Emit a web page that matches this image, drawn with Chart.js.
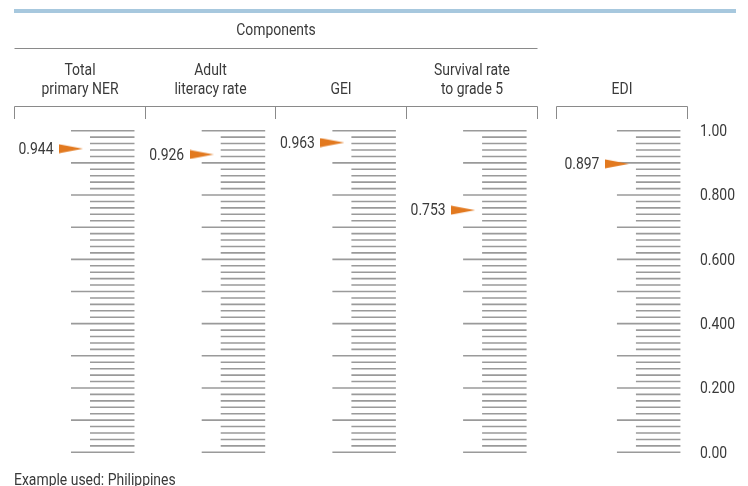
<!DOCTYPE html>
<html>
<head>
<meta charset="utf-8">
<script src="https://cdn.jsdelivr.net/npm/chart.js@4/dist/chart.umd.min.js"></script>
<style>
  html, body { margin: 0; padding: 0; background: #fff; }
  #wrap { width: 748px; height: 486px; position: relative; }
</style>
</head>
<body>
<div id="wrap"><canvas id="gaugeChart"></canvas></div>
<script>
// Data
const categories = [
    ['Total', 'primary NER'],
    ['Adult', 'literacy rate'],
    ['GEI'],
    ['Survival rate', 'to grade 5'],
    ['EDI']
];
const values = [0.944, 0.926, 0.963, 0.753, 0.897];
const yTickValues = [0, 0.2, 0.4, 0.6, 0.8, 1];
const yTickLabels = ['0.00', '0.200', '0.400', '0.600', '0.800', '1.00'];
const groupTitle = 'Components';
const note = 'Example used: Philippines';

// Layout / style
const columnSlots = [0, 1, 2, 3, 4.177];   // last one is the separate EDI gauge
const componentCount = 4;
const fontFamily = 'Roboto, "Open Sans", sans-serif';
const fontSize = 17;
const squeeze = 0.82;                      // the original uses a condensed face
const textColor = '#3a3a3a';
const tickColor = '#9a9a9a';
const lineColor = '#8a8a8a';
const markerColor = '#e2791f';
const minorStep = 0.02;
const majorEvery = 5;

// Elongated triangle used as point style
function makeMarker() {
    const c = document.createElement('canvas');
    c.width = 24;
    c.height = 10;
    const g = c.getContext('2d');
    g.fillStyle = markerColor;
    g.beginPath();
    g.moveTo(0, 0.5);
    g.lineTo(24, 5);
    g.lineTo(0, 9.5);
    g.closePath();
    g.fill();
    return c;
}

// Narrow text: draw with a horizontal squeeze
function narrowText(ctx, text, x, y, align, baseline) {
    ctx.save();
    ctx.translate(x, y);
    ctx.scale(squeeze, 1);
    ctx.font = fontSize + 'px ' + fontFamily;
    ctx.fillStyle = textColor;
    ctx.textAlign = align;
    ctx.textBaseline = baseline || 'alphabetic';
    ctx.fillText(text, 0, 0);
    ctx.restore();
}

const gaugePlugin = {
    id: 'gauge',
    beforeDatasetsDraw(chart) {
        const { ctx, scales: { x, y } } = chart;
        ctx.save();
        ctx.strokeStyle = tickColor;
        ctx.lineWidth = 1.6;
        const steps = Math.round(1 / minorStep);
        columnSlots.forEach(slot => {
            const left = x.getPixelForValue(slot);
            for (let k = 0; k <= steps; k++) {
                const py = y.getPixelForValue(k * minorStep);
                const major = k % majorEvery === 0;
                ctx.beginPath();
                ctx.moveTo(left + (major ? 0 : 19), py);
                ctx.lineTo(left + 63.5, py);
                ctx.stroke();
            }
        });
        ctx.restore();
    },
    afterDatasetsDraw(chart) {
        const { ctx, chartArea, scales: { y } } = chart;
        const meta = chart.getDatasetMeta(0);
        meta.data.forEach((pt, i) => {
            narrowText(ctx, values[i].toFixed(3), pt.x - 17.5, pt.y + 1, 'right', 'middle');
        });
        // right-hand value scale
        yTickValues.forEach((v, i) => {
            narrowText(ctx, yTickLabels[i], chartArea.right + 10, y.getPixelForValue(v) + 1, 'left', 'middle');
        });
    },
    afterDraw(chart) {
        const { ctx, scales: { x } } = chart;
        ctx.save();

        // blue band on top
        ctx.fillStyle = '#a7c8de';
        ctx.fillRect(14, 9, 722, 4);

        const edges = [];
        for (let i = 0; i <= componentCount; i++) {
            edges.push(Math.round(x.getPixelForValue(i) - 57) + 0.5);
        }
        const edi = x.getPixelForValue(columnSlots[4]);
        const ediL = Math.round(edi - 61) + 0.5;
        const ediR = Math.round(edi + 70) + 0.5;

        ctx.strokeStyle = lineColor;
        ctx.lineWidth = 1;

        // line under "Components"
        ctx.beginPath();
        ctx.moveTo(edges[0], 48.5);
        ctx.lineTo(edges[componentCount], 48.5);
        ctx.stroke();

        // brackets
        ctx.beginPath();
        ctx.moveTo(edges[0], 106.5);
        ctx.lineTo(edges[componentCount], 106.5);
        edges.forEach(ex => {
            ctx.moveTo(ex, 106.5);
            ctx.lineTo(ex, 119);
        });
        ctx.moveTo(ediL, 119);
        ctx.lineTo(ediL, 106.5);
        ctx.lineTo(ediR, 106.5);
        ctx.lineTo(ediR, 119);
        ctx.stroke();
        ctx.restore();

        // texts
        narrowText(ctx, groupTitle, (edges[0] + edges[componentCount]) / 2, 35, 'center');
        categories.forEach((lines, i) => {
            const cx = i < componentCount ? (edges[i] + edges[i + 1]) / 2 : (ediL + ediR) / 2;
            const base = 94 - (lines.length - 1) * 19;
            lines.forEach((t, j) => narrowText(ctx, t, cx, base + j * 19, 'center'));
        });
        narrowText(ctx, note, 14, 485, 'left');
    }
};

const ctx = document.getElementById('gaugeChart').getContext('2d');
new Chart(ctx, {
    type: 'scatter',
    data: {
        datasets: [{
            data: values.map((v, i) => ({ x: columnSlots[i], y: v })),
            pointStyle: makeMarker(),
            pointRadius: 12,
            pointHoverRadius: 12
        }]
    },
    options: {
        responsive: true,
        maintainAspectRatio: false,
        animation: false,
        events: [],
        layout: {
            autoPadding: false,
            padding: { top: 130.7, bottom: 33.7, left: 0, right: 0 }
        },
        plugins: {
            legend: { display: false },
            tooltip: { enabled: false }
        },
        scales: {
            x: {
                type: 'linear',
                display: false,
                min: -0.5432,
                max: 4.7361
            },
            y: {
                position: 'right',
                min: 0,
                max: 1,
                grid: { display: false, drawTicks: false },
                border: { display: false },
                afterFit: scale => { scale.width = 58; },
                ticks: { display: false, stepSize: 0.2 }
            }
        }
    },
    plugins: [gaugePlugin]
});
</script>
</body>
</html>
